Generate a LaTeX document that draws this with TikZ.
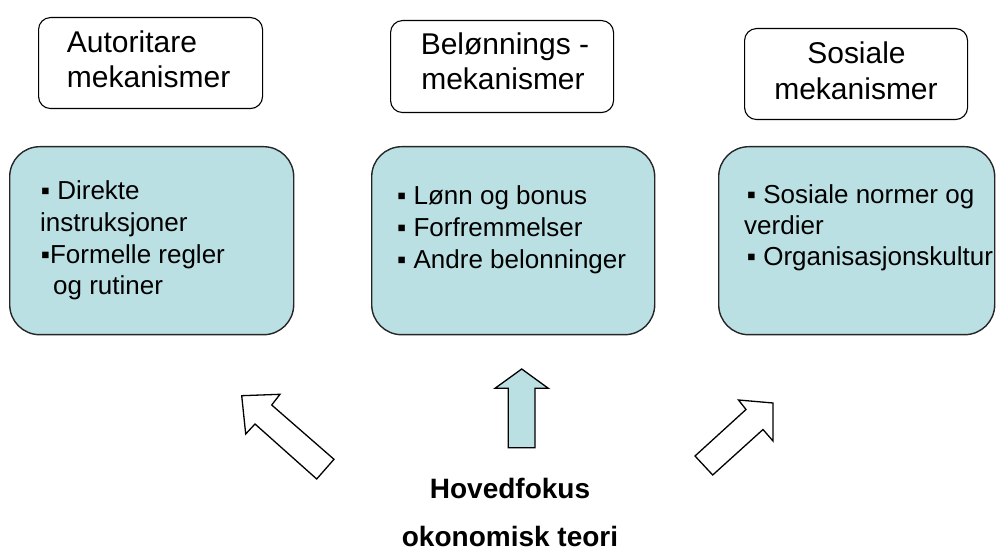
\documentclass[tikz,border=0pt]{standalone}
\usepackage{fontspec}
\setmainfont{Liberation Sans}
\definecolor{boxblue}{RGB}{187,224,227}
\begin{document}
\begin{tikzpicture}[x=1pt,y=-1pt,
  topbox/.style={draw=black, line width=1.1pt, rounded corners=12pt, fill=white, inner sep=0pt, anchor=north west},
  bluebox/.style={draw=black!85, line width=1.4pt, rounded corners=30pt, fill=boxblue, inner sep=0pt, anchor=north west},
  toptext/.style={font=\fontsize{30}{35}\selectfont, inner sep=0pt},
  bltext/.style={font=\fontsize{26}{31}\selectfont, inner sep=0pt, anchor=base west},
  boldtext/.style={font=\bfseries\fontsize{28}{33}\selectfont, inner sep=0pt, anchor=base},
  blockarrow/.style={draw=black, line width=1.3pt, line join=miter}]
\useasboundingbox (0,0) rectangle (997,556);

% top boxes
\node[topbox, minimum width=224pt, minimum height=91pt] (tb1) at (38,17) {};
\node[topbox, minimum width=223pt, minimum height=92pt] (tb2) at (390,20) {};
\node[topbox, minimum width=223pt, minimum height=91pt] (tb3) at (744,28) {};

\node[toptext, anchor=base west] (t1a) at (66.7,53) {Autoritare};
\node[toptext, anchor=base west] (t1b) at (66.7,88) {mekanismer};
\node[toptext, anchor=base] (t2a) at (505,55) {Belønnings -};
\node[toptext, anchor=base] (t2b) at (503,90) {mekanismer};
\node[toptext, anchor=base] (t3a) at (856.5,63.3) {Sosiale};
\node[toptext, anchor=base] (t3b) at (856,100) {mekanismer};

% blue boxes
\node[bluebox, minimum width=284pt, minimum height=188pt] (bb1) at (9,146) {};
\node[bluebox, minimum width=283pt, minimum height=188pt] (bb2) at (371,146) {};
\node[bluebox, minimum width=276pt, minimum height=188pt] (bb3) at (718,146) {};

\node[bltext] (b1a) at (40.7,200) {▪ Direkte};
\node[bltext] (b1b) at (40,231.7) {instruksjoner};
\node[bltext] (b1c) at (40.7,263.3) {▪Formelle regler};
\node[bltext] (b1d) at (53,295) {og rutiner};

\node[bltext] (b2a) at (397,205) {▪ Lønn og bonus};
\node[bltext] (b2b) at (397,236.7) {▪ Forfremmelser};
\node[bltext] (b2c) at (397,268.3) {▪ Andre belonninger};

\node[bltext] (b3a) at (746.7,204) {▪ Sosiale normer og};
\node[bltext] (b3b) at (744,235) {verdier};
\node[bltext] (b3c) at (746.7,266) {▪ Organisasjonskultur};

% block arrows
\draw[blockarrow, fill=white] (241.7,395.7) -- (280,394.3) -- (271.7,405) -- (334,459.3)
  -- (316.7,479) -- (255,424) -- (245.7,434) -- cycle;
\draw[blockarrow, fill=boxblue] (521.7,369) -- (548.3,388.3) -- (535,388.3) -- (535,447.7)
  -- (508.3,447.7) -- (508.3,388.3) -- (495,388.3) -- cycle;
\draw[blockarrow, fill=white] (773,403) -- (773,441) -- (763,429.5) -- (712.7,475)
  -- (695,456) -- (746,409.5) -- (738.5,400) -- cycle;

% bottom text
\node[boldtext] (h1) at (510,498) {Hovedfokus};
\node[boldtext] (h2) at (510,546) {okonomisk teori};
\end{tikzpicture}
\end{document}
